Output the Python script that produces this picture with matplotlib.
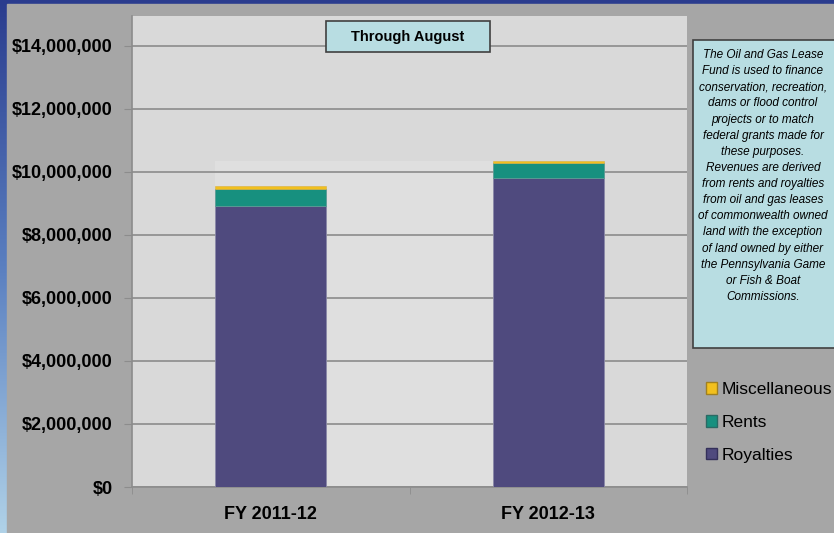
import numpy as np
import matplotlib
matplotlib.use("Agg")
import matplotlib.pyplot as plt
from matplotlib.colors import LinearSegmentedColormap
from matplotlib.patches import Rectangle

plt.rcParams['font.family'] = ['Liberation Sans', 'DejaVu Sans']

# data
years = ["FY 2011-12", "FY 2012-13"]
royalties = [8930000, 9800000]
rents = [540000, 495000]
misc = [86000, 63000]
y_ticks = [0, 2000000, 4000000, 6000000, 8000000, 10000000, 12000000, 14000000]

note = ("The Oil and Gas Lease\nFund is used to finance\nconservation, recreation,\n"
        "dams or flood control\nprojects or to match\nfederal grants made for\n"
        "these purposes.\nRevenues are derived\nfrom rents and royalties\n"
        "from oil and gas leases\nof commonwealth owned\nland with the exception\n"
        "of land owned by either\nthe Pennsylvania Game\nor Fish & Boat\nCommissions.")

c_roy = "#4f4a7e"
c_rent = "#17907f"
c_misc = "#f2c01e"
box_col = "#b8dde2"

fig = plt.figure(figsize=(8.34, 5.33), dpi=100)

def fx(px):
    return px / 834

def fy(py):
    return (533 - py) / 533

# blue frame with gradient + gray panel
bg = fig.add_axes([0, 0, 1, 1], zorder=-10)
cmap = LinearSegmentedColormap.from_list("frame", ["#2a3c8e", "#5a7fc0", "#b0d2e8"])
bg.imshow(np.linspace(0, 1, 256).reshape(-1, 1), aspect="auto", cmap=cmap,
          extent=[0, 1, 0, 1], origin="upper")
bg.add_patch(Rectangle((fx(7), 0), 1, fy(4), color="#a6a6a6", transform=bg.transAxes))
bg.set_xlim(0, 1)
bg.set_ylim(0, 1)
bg.axis("off")

ax = fig.add_axes([fx(132), fy(487), 555 / 834, 471 / 533])
ax.set_facecolor("#d9d9d9")

x = np.arange(len(years))
w = 0.4
totals = np.array(royalties) + np.array(rents) + np.array(misc)

# faint lighter back wall behind bars
ax.add_patch(Rectangle((x[0] - w / 2, 0), x[-1] - x[0] + w, totals.max(),
                       color="#dfdfdf", zorder=0.5, lw=0))

ax.bar(x, royalties, w, color=c_roy, edgecolor="#8a88a8", linewidth=0.6, zorder=3)
ax.bar(x, rents, w, bottom=royalties, color=c_rent, edgecolor="#5a9a94", linewidth=0.6, zorder=3)
ax.bar(x, misc, w, bottom=np.array(royalties) + np.array(rents), color=c_misc,
       edgecolor="#d8b040", linewidth=0.4, zorder=3)

ax.set_xlim(-0.5, 1.5)
ax.set_ylim(0, 14950000)
ax.set_yticks(y_ticks)
ax.set_yticklabels(["${:,.0f}".format(v) for v in y_ticks], fontsize=13, fontweight="bold")
ax.yaxis.grid(True, color="#8c8c8c", linewidth=1.2, zorder=1)
ax.set_axisbelow(True)
ax.tick_params(axis="y", length=6, color="#8c8c8c", pad=8)

ax.set_xticks(x)
ax.set_xticklabels(years, fontsize=13, fontweight="bold")
ax.set_xticks([-0.5, 0.5, 1.5], minor=True)
ax.tick_params(axis="x", which="major", length=0, pad=14)
ax.tick_params(axis="x", which="minor", length=5, color="#8c8c8c")

for s in ["top", "right"]:
    ax.spines[s].set_visible(False)
for s in ["left", "bottom"]:
    ax.spines[s].set_color("#8c8c8c")
    ax.spines[s].set_linewidth(1.2)

# title box
fig.patches.append(Rectangle((fx(326), fy(52)), 164 / 834, 31 / 533,
                             transform=fig.transFigure, fc=box_col, ec="#404040",
                             lw=1.2, figure=fig, zorder=5))
fig.text(fx(408), fy(36.5), "Through August", ha="center", va="center",
         fontsize=10.5, fontweight="bold", zorder=6)

# note box
fig.patches.append(Rectangle((fx(693), fy(348)), 145 / 834, 308 / 533,
                             transform=fig.transFigure, fc=box_col, ec="#404040",
                             lw=1.2, figure=fig))
fig.text(fx(763), fy(176), note, ha="center", va="center",
         fontsize=8.5, style="italic", linespacing=1.46)

# legend
handles = [Rectangle((0, 0), 1, 1, fc=c_misc, ec="#a08020"),
           Rectangle((0, 0), 1, 1, fc=c_rent, ec="#2a6a64"),
           Rectangle((0, 0), 1, 1, fc=c_roy, ec="#34305a")]
fig.legend(handles, ["Miscellaneous", "Rents", "Royalties"], loc="upper left",
           bbox_to_anchor=(fx(694), fy(370)), frameon=False,
           fontsize=12.5, handlelength=0.65, handleheight=0.65, handletextpad=0.25,
           labelspacing=1.02, borderpad=0.2)

fig.savefig("out.png", dpi=100)
